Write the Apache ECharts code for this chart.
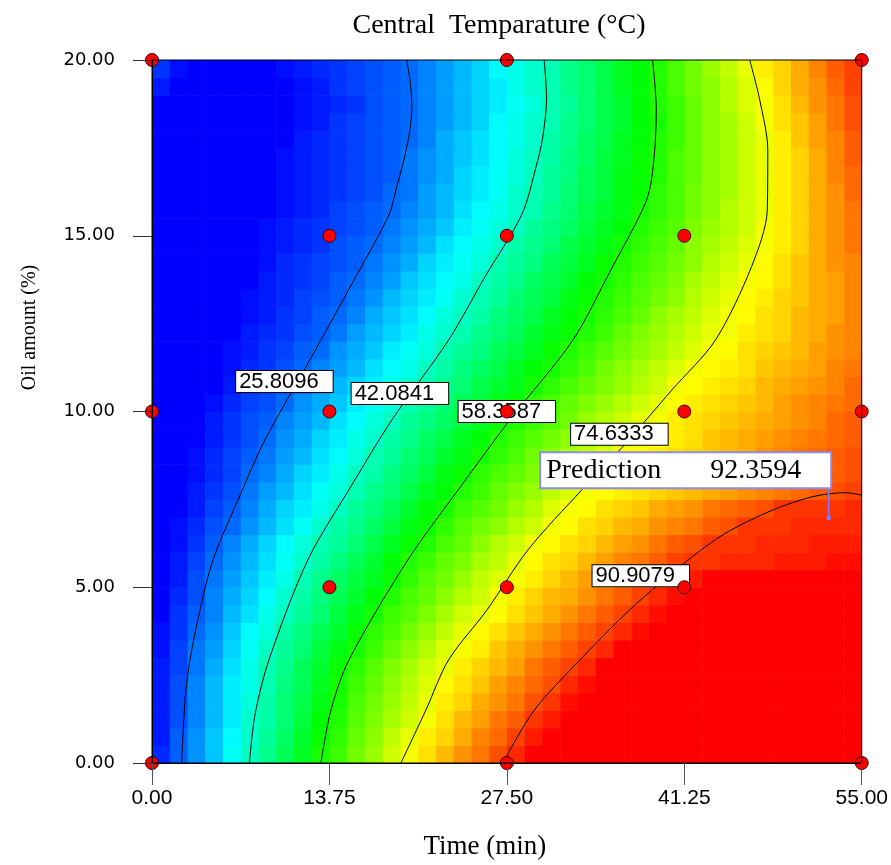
<!DOCTYPE html>
<html>
<head>
<meta charset="utf-8">
<title>Central Temparature</title>
<script src="https://cdn.jsdelivr.net/npm/echarts@6/dist/echarts.min.js"></script>
<style>
  html, body { margin: 0; padding: 0; background: #fff; }
  #main { width: 891px; height: 865px; }
</style>
</head>
<body>
<div id="main"></div>
<script>
// axis ticks
var timeTicks = [0, 13.75, 27.5, 41.25, 55];
var oilTicks = [0, 5, 10, 15, 20];

// design points
var designTime = [0, 27.5, 55, 13.75, 27.5, 41.25, 0, 13.75, 27.5, 41.25, 55, 13.75, 27.5, 41.25, 0, 27.5, 55];
var designOil = [20, 20, 20, 15, 15, 15, 10, 10, 10, 10, 10, 5, 5, 5, 0, 0, 0];

// predicted central temperature, 40 x 40 cells, row 0 = bottom (oil 0-0.5 %), left to right = time
var tempGrid = [
  [21,25,29,33,38,42,46,50,54,58,61,65,68,72,75,78,81,84,86,89,92,95,97,99,99,99,99,99,99,99,99,99,99,99,99,99,99,99,99,99],
  [20,25,29,33,37,41,45,49,53,57,60,64,67,71,74,77,79,82,85,87,90,93,95,98,99,99,99,99,99,99,99,99,99,99,99,99,99,99,99,99],
  [20,24,28,32,36,41,44,48,52,56,59,63,66,69,72,75,78,81,83,86,88,91,93,96,98,99,99,99,99,99,99,99,99,99,99,99,99,99,99,99],
  [20,24,28,32,36,40,44,48,51,55,58,62,65,68,71,74,77,79,82,84,86,89,91,94,96,98,99,99,99,99,99,99,99,99,99,99,99,99,99,99],
  [20,24,28,32,36,39,43,47,50,54,58,61,64,67,70,73,76,78,80,83,85,87,89,92,94,96,99,99,99,99,99,99,99,99,99,99,99,99,99,99],
  [20,23,27,31,35,39,43,46,50,53,57,60,63,66,69,72,74,77,79,81,83,86,88,90,92,95,97,99,99,99,99,99,99,99,99,99,99,99,99,99],
  [19,23,27,30,34,38,42,45,48,52,55,58,61,64,67,70,73,75,77,80,82,84,86,88,90,92,95,97,99,99,99,99,99,99,99,99,99,99,99,99],
  [19,22,26,29,33,37,40,44,47,50,53,57,60,62,65,68,71,74,76,78,80,82,84,86,88,90,92,94,96,98,99,99,99,99,99,99,99,99,99,99],
  [18,22,25,28,32,35,39,42,45,48,52,55,58,61,63,66,69,72,74,76,78,80,82,84,86,88,90,92,94,96,98,99,99,99,99,99,99,99,99,99],
  [18,21,24,28,31,34,37,41,44,47,50,53,56,59,62,64,67,70,72,75,77,79,81,82,84,86,88,90,92,94,96,97,97,97,97,97,97,97,97,97],
  [17,20,24,27,30,33,36,39,43,46,49,52,54,57,60,63,65,68,71,73,75,77,79,81,83,84,86,88,90,92,93,95,96,96,96,96,96,96,96,96],
  [17,20,23,26,29,32,35,38,41,44,47,50,53,56,59,61,64,66,69,71,74,76,78,79,81,83,85,86,88,90,91,91,92,92,92,93,93,93,94,94],
  [17,19,22,25,28,31,34,37,40,43,45,48,51,54,57,59,62,64,67,70,72,75,76,78,79,81,83,84,86,88,89,91,91,91,92,92,92,93,93,93],
  [16,19,21,24,26,29,32,35,38,41,44,46,49,52,55,57,60,63,65,67,70,72,75,76,78,79,81,82,84,85,86,88,89,91,91,91,92,92,92,92],
  [15,18,20,23,25,28,31,34,36,39,42,45,47,50,53,56,58,61,63,65,68,70,73,75,76,78,79,80,82,83,84,86,87,88,89,91,91,91,91,92],
  [15,17,20,22,24,27,30,32,35,38,40,43,46,48,51,54,56,59,61,64,66,68,71,73,75,76,77,78,79,80,81,82,83,84,85,86,87,88,89,90],
  [15,17,19,21,23,26,28,31,34,36,39,42,44,47,49,52,55,57,60,62,64,66,69,71,73,75,76,77,78,79,80,81,82,83,84,85,86,87,88,89],
  [14,16,19,21,23,25,27,30,32,35,37,40,43,45,48,50,53,55,58,60,62,65,67,69,71,73,75,76,77,78,79,80,81,82,84,85,86,87,88,89],
  [14,16,18,20,22,24,26,29,31,34,36,39,41,44,46,49,51,54,56,59,61,63,65,67,69,71,74,75,76,77,78,80,81,82,83,84,85,86,87,88],
  [14,16,18,20,22,24,25,28,30,32,35,37,40,42,45,47,49,52,54,57,59,61,63,65,68,70,72,74,75,77,78,79,80,81,82,83,84,85,87,88],
  [14,16,17,19,21,23,24,26,29,31,33,36,38,40,43,45,48,50,52,55,57,60,62,64,66,68,70,72,74,76,77,78,79,80,81,83,84,85,86,87],
  [13,15,17,18,20,22,23,25,27,29,32,34,36,39,41,43,46,48,51,53,55,58,60,62,64,66,68,70,72,75,76,77,78,79,81,82,83,84,85,87],
  [13,14,16,18,19,21,22,24,26,28,30,32,35,37,39,42,44,47,49,51,54,56,58,60,62,65,67,69,71,73,75,76,77,78,80,81,82,83,85,86],
  [13,14,16,17,19,20,22,23,25,26,29,31,33,36,38,40,43,45,47,50,52,54,57,59,61,63,65,67,69,71,73,75,76,78,79,80,81,83,84,85],
  [12,14,15,17,18,20,21,22,24,25,27,30,32,34,36,39,41,43,46,48,50,53,55,57,59,61,64,66,68,70,72,74,75,77,78,79,81,82,84,85],
  [12,14,15,16,18,19,20,22,23,25,26,28,31,33,35,37,40,42,44,47,49,51,54,56,58,60,62,64,67,69,71,73,75,76,78,79,81,82,83,85],
  [12,13,15,16,17,19,20,21,23,24,25,27,29,32,34,36,38,41,43,45,48,50,52,55,57,59,61,63,65,67,70,72,74,76,77,79,80,82,83,85],
  [12,13,15,16,17,18,20,21,22,23,25,26,28,30,33,35,37,39,42,44,46,49,51,53,56,58,60,62,64,66,69,71,73,75,76,78,80,82,83,85],
  [12,13,15,16,17,18,19,21,22,23,24,25,27,29,31,34,36,38,40,43,45,47,50,52,54,57,59,61,63,65,67,70,72,74,76,78,80,82,84,85],
  [12,13,15,16,17,18,19,20,21,22,24,25,26,28,30,32,35,37,39,41,44,46,48,51,53,55,58,60,62,64,67,69,71,73,75,77,79,82,84,86],
  [12,13,14,15,16,18,19,20,21,22,23,24,25,27,29,31,33,36,38,40,42,45,47,49,52,54,56,59,61,63,66,68,70,72,75,77,79,82,84,86],
  [12,13,14,15,16,17,18,19,20,21,23,24,25,26,28,30,32,35,37,39,41,43,46,48,51,53,55,58,60,62,65,67,70,72,74,77,79,82,84,86],
  [11,12,14,15,16,17,18,19,20,21,22,23,24,26,27,30,32,34,36,38,41,43,45,48,50,52,55,57,60,62,65,67,69,72,74,77,79,82,84,87],
  [11,12,13,14,16,17,18,19,20,21,22,23,24,25,27,29,31,34,36,38,40,42,45,47,50,52,55,57,59,62,64,67,69,72,74,77,79,82,85,87],
  [11,12,13,14,15,16,18,19,20,21,22,23,24,25,27,29,31,33,35,37,40,42,44,47,49,52,54,57,59,62,64,67,69,72,74,77,79,82,85,88],
  [11,12,13,14,15,16,17,18,20,21,22,23,24,25,26,28,31,33,35,37,39,41,44,46,49,51,54,56,59,61,64,67,69,72,74,77,80,83,85,88],
  [11,12,13,14,15,16,17,18,19,20,22,23,24,25,26,28,30,32,34,37,39,41,43,46,48,51,53,56,58,61,64,67,69,72,75,78,80,83,86,89],
  [17,12,13,14,15,16,17,18,19,20,21,22,24,25,26,28,30,32,34,36,38,40,43,45,48,51,53,56,59,61,64,67,70,73,75,78,81,84,86,89],
  [20,12,13,14,15,16,17,18,19,20,22,23,24,25,26,28,30,32,34,36,39,41,43,46,48,51,54,56,59,62,65,67,70,73,76,79,82,84,87,90],
  [22,19,13,14,15,16,17,19,20,21,22,23,24,25,26,28,30,32,34,37,39,41,43,46,48,51,54,56,59,62,65,68,71,74,77,79,82,85,88,90]
];

// contour lines, [time, oil]
var contourLevels = ['25.8096', '42.0841', '58.3587', '74.6333', '90.9079'];
var contour25 = [[2.30,0],[2.56,1.79],[2.94,2.93],[3.72,4.35],[4.73,5.78],[6.82,7.62],[8.75,9.19],[12.24,11.47],[15.65,13.74],[18.36,15.59],[18.90,16.30],[19.52,17.16],[19.99,18.01],[20.14,18.72],[19.99,19.43],[19.73,20]];
var contour42 = [[7.55,0],[7.98,1.37],[9.06,2.93],[12.08,5.78],[15.49,7.91],[18.59,9.76],[22.98,12.03],[25.80,13.83],[28.64,15.59],[29.80,17.01],[30.27,17.78],[30.58,18.91],[30.39,20]];
var contour58 = [[13.09,0],[13.87,1.51],[15.26,2.93],[19.83,5.78],[24.01,7.91],[27.73,9.76],[32.61,12.03],[35.56,14.03],[38.33,16.02],[38.89,17.16],[39.08,18.58],[38.79,20]];
var contour74 = [[19.29,0],[21.23,1.51],[22.98,2.93],[25.95,4.35],[29.13,6.06],[33.31,7.77],[36.49,9.00],[40.28,10.61],[43.66,12.03],[46.46,14.12],[47.68,15.73],[47.72,17.44],[47.10,18.86],[46.32,20]];
var contour90 = [[27.19,0],[29.64,1.51],[33.16,2.93],[37.00,4.35],[41.56,5.78],[44.50,6.55],[48.13,7.20],[51.23,7.58],[53.76,7.69],[55,7.62]];

// where the level labels sit
var labelTime = [10.26, 19.21, 27.50, 36.22, 37.88];
var labelOil = [10.85, 10.51, 10.00, 9.35, 5.33];

// prediction flag
var predPoint = [52.44, 6.97];
var predValue = '92.3594';
var flagBase = 7.80;

var chart = echarts.init(document.getElementById('main'));

var cellIndex = [];
for (var i = 0; i < 40; i++) cellIndex.push(i);

var heatData = [];
tempGrid.forEach(function (row, r) {
  row.forEach(function (v, c) {
    heatData.push([c, r, v]);
  });
});

var designData = designTime.map(function (t, k) { return [t, designOil[k]]; });

function contourLine(points) {
  return {
    type: 'line',
    xAxisIndex: 1,
    yAxisIndex: 1,
    data: points,
    smooth: 0.3,
    symbol: 'none',
    silent: true,
    z: 3,
    lineStyle: { color: '#000', width: 1 }
  };
}

// one square per cell, slightly overlapped so no seams show
function renderCell(params, api) {
  var c = api.coord([api.value(0), api.value(1)]);
  var s = api.size([1, 1]);
  return {
    type: 'rect',
    shape: { x: c[0] - s[0] / 2, y: c[1] - s[1] / 2, width: s[0] + 0.6, height: s[1] + 0.6 },
    style: { fill: api.visual('color') }
  };
}

var serifFont = 'Liberation Serif';

chart.setOption({
  animation: false,
  backgroundColor: '#fff',
  textStyle: { fontFamily: 'Liberation Sans' },
  title: {
    text: 'Central  Temparature (°C)',
    left: 494,
    top: 7,
    textAlign: 'center',
    textStyle: { fontFamily: serifFont, fontSize: 28, fontWeight: 'normal', color: '#000' }
  },
  grid: [
    { left: 152, top: 60, width: 710, height: 703, show: false },
    { left: 152, top: 60, width: 710, height: 703, show: true, z: 20,
      backgroundColor: 'transparent', borderColor: '#000', borderWidth: 1 }
  ],
  visualMap: {
    show: false,
    type: 'continuous',
    seriesIndex: 0,
    dimension: 2,
    min: 18,
    max: 95,
    inRange: { color: ['#0000ff', '#00ffff', '#00ff00', '#ffff00', '#ff0000'] }
  },
  xAxis: [
    { type: 'category', gridIndex: 0, data: cellIndex, show: false },
    {
      type: 'value', gridIndex: 1, min: timeTicks[0], max: timeTicks[timeTicks.length - 1],
      interval: timeTicks[1] - timeTicks[0], z: 20,
      axisLine: { show: true, onZero: false, lineStyle: { color: '#000', width: 1 } },
      axisTick: { show: true, length: 22, lineStyle: { color: '#555' } },
      splitLine: { show: false },
      axisLabel: {
        margin: 25, fontFamily: 'Liberation Sans', fontSize: 21, color: '#000',
        formatter: function (v) { return v.toFixed(2); }
      },
      name: 'Time (min)',
      nameLocation: 'middle',
      nameGap: 70,
      nameTextStyle: { fontFamily: serifFont, fontSize: 27, color: '#000', padding: [0, 44, 0, 0] }
    }
  ],
  yAxis: [
    { type: 'category', gridIndex: 0, data: cellIndex, show: false },
    {
      type: 'value', gridIndex: 1, min: oilTicks[0], max: oilTicks[oilTicks.length - 1],
      interval: oilTicks[1] - oilTicks[0], z: 20,
      axisLine: { show: true, onZero: false, lineStyle: { color: '#000', width: 1 } },
      axisTick: { show: true, length: 19, lineStyle: { color: '#333' } },
      splitLine: { show: false },
      axisLabel: {
        margin: 37, fontFamily: 'DejaVu Sans', fontSize: 18, color: '#000',
        formatter: function (v) { return v.toFixed(2); }
      },
      name: 'Oil amount (%)',
      nameLocation: 'middle',
      nameGap: 112,
      nameTextStyle: { fontFamily: serifFont, fontSize: 20, color: '#000', padding: [0, 0, 0, 168] }
    }
  ],
  series: [
    {
      type: 'custom',
      xAxisIndex: 0,
      yAxisIndex: 0,
      data: heatData,
      renderItem: renderCell,
      clip: true,
      silent: true,
      z: 1
    },
    contourLine(contour25),
    contourLine(contour42),
    contourLine(contour58),
    contourLine(contour74),
    contourLine(contour90),
    {
      type: 'scatter',
      xAxisIndex: 1,
      yAxisIndex: 1,
      silent: true,
      z: 4,
      symbolSize: 1,
      itemStyle: { color: '#fff', opacity: 1 },
      data: contourLevels.map(function (lv, k) {
        return { name: lv, value: [labelTime[k], labelOil[k]] };
      }),
      label: {
        show: true,
        position: 'inside',
        formatter: '{b}',
        color: '#000',
        opacity: 1,
        fontFamily: 'Liberation Sans',
        fontSize: 22,
        lineHeight: 20,
        backgroundColor: '#fff',
        borderColor: '#000',
        borderWidth: 1,
        padding: [1, 14, 0, 3]
      }
    },
    {
      type: 'line',
      xAxisIndex: 1,
      yAxisIndex: 1,
      silent: true,
      z: 5,
      lineStyle: { color: '#7d7dff', width: 1.5 },
      itemStyle: { color: '#7d7dff', opacity: 1 },
      data: [
        { value: predPoint, symbol: 'rect', symbolSize: 4 },
        {
          value: [predPoint[0], flagBase], symbol: 'rect', symbolSize: 1,
          label: {
            show: true,
            position: [-287, -35],
            formatter: '{a|Prediction}{b|' + predValue + '}',
            backgroundColor: '#fff',
            borderColor: '#8c8cf0',
            borderWidth: 2,
            padding: [2, 29, 1, 5],
            rich: {
              a: { width: 164, fontFamily: serifFont, fontSize: 28, lineHeight: 31, color: '#000' },
              b: { fontFamily: serifFont, fontSize: 28, lineHeight: 31, color: '#000' }
            }
          }
        }
      ]
    },
    {
      type: 'scatter',
      xAxisIndex: 1,
      yAxisIndex: 1,
      silent: true,
      z: 6,
      symbolSize: 13,
      itemStyle: { color: '#ff0000', borderColor: '#400000', borderWidth: 1, opacity: 1 },
      data: designData
    }
  ]
});
</script>
</body>
</html>
